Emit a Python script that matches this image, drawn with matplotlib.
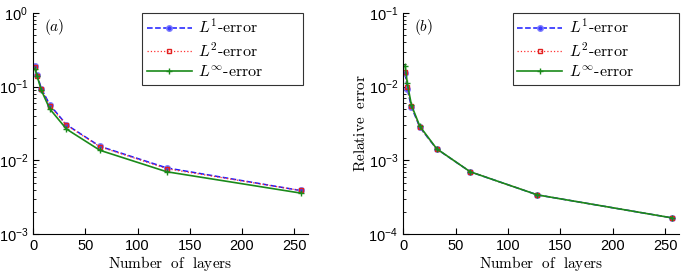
import numpy as np
from matplotlib import pyplot as plt

plt.rcParams['mathtext.fontset'] = 'cm'
plt.rcParams['font.family'] = 'Liberation Sans'

layers = [2, 4, 8, 16, 32, 64, 128, 256]

# panel (a)
l1_a = [0.193, 0.143, 0.094, 0.057, 0.0305, 0.0155, 0.0079, 0.0039]
l2_a = [0.185, 0.140, 0.092, 0.055, 0.0300, 0.0153, 0.0077, 0.0039]
linf_a = [0.175, 0.138, 0.089, 0.050, 0.0266, 0.0137, 0.0070, 0.0036]

# panel (b)
l1_b = [0.0151, 0.0093, 0.0053, 0.0028, 0.00143, 0.00070, 0.00034, 0.000166]
l2_b = [0.0160, 0.0098, 0.0054, 0.0028, 0.00143, 0.00070, 0.00034, 0.000166]
linf_b = [0.0193, 0.0112, 0.0056, 0.0029, 0.00144, 0.00070, 0.00034, 0.000166]

panels = [
    ('a', l1_a, l2_a, linf_a, (1e-3, 1e0), 0.982),
    ('b', l1_b, l2_b, linf_b, (1e-4, 1e-1), 1.0),
]

fig = plt.figure(figsize=(6.82, 2.76), dpi=100)
boxes = [[0.0484, 0.152, 0.403, 0.801], [0.591, 0.152, 0.4046, 0.801]]

for box, (tag, l1, l2, linf, ylim, leg_right) in zip(boxes, panels):
    ax = fig.add_axes(box)
    ax.semilogy(layers, l1, '--o', color='#1a1aff', lw=1.1, ms=4,
                mfc='#3a3aff', mec='#8080ff', label=r'$L^1\mathrm{\text{-}error}$')
    ax.semilogy(layers, l2, ':s', color='#ff3030', lw=0.9, ms=3.5,
                mfc='none', mec='#e02020', label=r'$L^2\mathrm{\text{-}error}$')
    ax.semilogy(layers, linf, '-+', color='#1a8a1a', lw=1.2, ms=4,
                label=r'$L^{\infty}\mathrm{\text{-}error}$')
    ax.set_xlim(0, 263)
    ax.set_ylim(*ylim)
    ax.set_xticks([0, 50, 100, 150, 200, 250])
    ax.tick_params(which='both', direction='in', labelsize=10.5)
    ax.tick_params(which='major', length=4)
    ax.tick_params(which='minor', length=2)
    ax.spines['top'].set_visible(False)
    ax.spines['right'].set_visible(False)
    ax.set_xlabel(r'$\mathrm{Number\ \ of\ \ layers}$', fontsize=11, labelpad=1)
    ax.set_ylabel(r'$\mathrm{Relative\ \ error}$', fontsize=11)
    ax.yaxis.set_label_coords(-0.127, 0.5)
    ax.text(0.04, 0.935, r'$(%s)$' % tag, transform=ax.transAxes,
            fontsize=11, va='center')
    x0 = 0.397
    leg = ax.legend(loc='upper left', bbox_to_anchor=(x0, 1.0, leg_right - x0, 0.0),
                    mode='expand', fontsize=11.5, frameon=True, fancybox=False,
                    edgecolor='black', borderaxespad=0.0, handlelength=2.8,
                    borderpad=0.3, labelspacing=0.3, handletextpad=0.4)
    leg.get_frame().set_linewidth(0.8)

fig.savefig('out.png', dpi=100)
